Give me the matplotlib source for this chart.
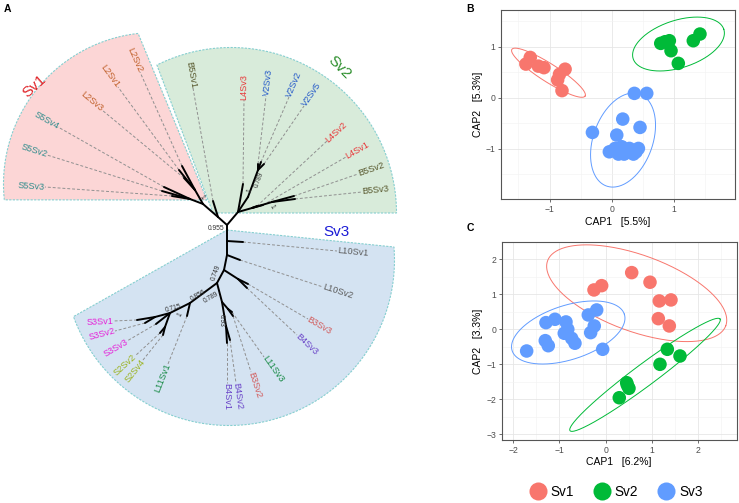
import numpy as np
import matplotlib
matplotlib.use('Agg')
import matplotlib.pyplot as plt
from matplotlib.patches import Polygon
from matplotlib.lines import Line2D

plt.rcParams['font.family'] = ['Liberation Sans', 'DejaVu Sans']

# ======================= DATA =======================
# ---- Panel A: unrooted tree (positions, in px) ----
node_names = ['R', 'B5a', 'N1', 'L2n', 'S5n', 'N2', 'Vn', 'V2n', 'Ln', 'B5n',
              'C1', 'C2', 'C3', 'B34', 'C4', 'D1', 'E1', 'D2', 'F1', 'F2', 'S3n', 'S2n']
node_x = [227, 218, 203, 195, 190, 238, 248, 258, 252, 272,
          227, 227, 224, 238, 217, 222, 228, 226, 190, 170, 155, 165]
node_y = [225, 217, 204, 190, 199, 212, 197, 170, 208, 202,
          241, 255, 270, 279, 283, 302, 309, 326, 303, 313, 317, 327]
edge_from = ['R', 'B5a', 'N1', 'N1', 'R', 'N2', 'Vn', 'N2', 'Ln',
             'R', 'C1', 'C2', 'C3', 'C3', 'C4', 'D1', 'D1', 'C4', 'F1', 'F2', 'F2']
edge_to = ['B5a', 'N1', 'L2n', 'S5n', 'N2', 'Vn', 'V2n', 'Ln', 'B5n',
           'C1', 'C2', 'C3', 'B34', 'C4', 'D1', 'E1', 'D2', 'F1', 'F2', 'S3n', 'S2n']

leaf_names = ['L2Sv2', 'L2Sv1', 'L2Sv3', 'S5Sv4', 'S5Sv2', 'S5Sv3',
              'B5Sv1', 'L4Sv3', 'V2Sv3', 'V2Sv2', 'V2Sv5', 'L4Sv2', 'L4Sv1', 'B5Sv2', 'B5Sv3',
              'L10Sv1', 'L10Sv2', 'B3Sv3', 'B4Sv3', 'L11Sv3', 'B3Sv2', 'B4Sv2', 'B4Sv1',
              'L11Sv1', 'S3Sv1', 'S3Sv2', 'S3Sv3', 'S2Sv2', 'S2Sv4']
leaf_parent = ['L2n', 'L2n', 'L2n', 'S5n', 'S5n', 'S5n',
               'B5a', 'N2', 'V2n', 'V2n', 'V2n', 'Ln', 'Ln', 'B5n', 'B5n',
               'C1', 'C2', 'B34', 'B34', 'E1', 'E1', 'D2', 'D2',
               'F1', 'S3n', 'S3n', 'F2', 'S2n', 'S2n']
leaf_tip_x = [182, 179, 184, 164, 162, 172,
              213, 243, 258, 261, 264, 257, 263, 294, 295,
              243, 240, 248, 247, 232, 233, 230, 227,
              187, 137, 145, 156, 160, 163]
leaf_tip_y = [166, 170, 178, 187, 191, 196,
              201, 184, 164, 162, 164, 206, 205, 196, 199,
              242, 260, 284, 288, 312, 316, 340, 343,
              316, 320, 323, 324, 333, 335]
leaf_lab_x = [140, 118, 102, 58, 47, 45,
              193, 244, 266, 289, 304, 327, 346, 358, 362,
              337, 323, 308, 297, 264, 251, 236, 227,
              168, 113, 115, 127, 135, 143]
leaf_lab_y = [72, 87, 110, 127, 155, 187,
              88, 100, 96, 97, 106, 141, 157, 174, 192,
              251, 287, 319, 335, 357, 372, 383, 383,
              364, 321, 331, 341, 356, 360]
leaf_colors = ['#c0602a'] * 3 + ['#2e8b8b'] * 3 + \
              ['#55552a', '#e8383a', '#2358c8', '#2358c8', '#2358c8', '#e8383a', '#e8383a', '#55552a', '#55552a'] + \
              ['#5a5a5a', '#5a5a5a', '#d25a5a', '#6a44c8', '#178a45', '#d25a5a', '#6a44c8', '#6a44c8'] + \
              ['#178a45', '#e620d8', '#e620d8', '#e620d8', '#9ab21e', '#9ab21e']

boot_text = ['0.955', '1', '1', '0.789', '1', '0.749', '0.856', '0.789', '0.715', '1', '0.93']
boot_x = [216, 202, 250, 259, 272, 216, 198, 211, 173, 180, 221]
boot_y = [229, 197, 191, 180, 207, 273, 296, 298, 308, 315, 320]
boot_rot = [0, -50, 70, 70, -60, 70, 30, 30, 15, 60, -90]

clade_names = ['Sv1', 'Sv2', 'Sv3']
clade_text_colors = ['#e0252a', '#2d8f2d', '#1c1cd6']
clade_fill = ['#fcd6d6', '#d8ebda', '#d4e3f2']

# ---- Panel B ----
B_x = {'Sv1': [-1.31, -1.38, -1.18, -1.09, -0.75, -0.84, -0.87, -0.80],
       'Sv2': [0.787, 0.856, 0.925, 0.952, 1.069, 1.31, 1.417],
       'Sv3': [-0.311, 0.176, 0.080, 0.454, 0.363, 0.562, -0.039, 0.053, 0.107,
               0.198, 0.284, 0.348, 0.428, 0.161, 0.39]}
B_y = {'Sv1': [0.79, 0.66, 0.62, 0.59, 0.56, 0.46, 0.35, 0.14],
       'Sv2': [1.066, 1.098, 1.118, 0.922, 0.674, 1.118, 1.249],
       'Sv3': [-0.679, -0.418, -0.731, -0.581, 0.086, 0.086, -1.059, -0.993, -1.104,
               -1.104, -0.993, -1.104, -0.993, -0.96, -1.06]}
# ellipse: centre, major half-axis vector, minor half-axis vector (data units)
B_ell = {'Sv1': (-1.017, 0.491, 0.588, -0.458, 0.078, 0.149),
         'Sv2': (1.072, 1.053, 0.728, 0.289, -0.118, 0.442),
         'Sv3': (0.181, -0.829, 0.268, 0.900, -0.448, 0.199)}

# ---- Panel C ----
C_x = {'Sv1': [0.563, 0.959, -0.253, -0.087, 1.16, 1.413, 1.139, 1.377],
       'Sv2': [1.334, 1.608, 1.175, 0.455, 0.47, 0.504, 0.294],
       'Sv3': [-1.71, -1.292, -1.097, -0.859, -0.896, -0.736, -0.665, -1.307, -1.242,
               -0.376, -0.195, -0.247, -0.325, -0.065, -0.82]}
C_y = {'Sv1': [1.622, 1.347, 1.126, 1.249, 0.811, 0.840, 0.304, 0.095],
       'Sv2': [-0.573, -0.765, -1.003, -1.53, -1.6, -1.69, -1.96],
       'Sv3': [-0.622, 0.19, 0.286, 0.21, -0.115, -0.259, -0.40, -0.326, -0.47,
               0.41, 0.553, 0.095, -0.096, -0.573, 0.0]}
C_ell = {'Sv1': (0.671, 1.032, 1.928, -0.929, 0.282, 1.027),
         'Sv2': (0.851, -1.304, 1.623, 1.599, -0.142, 0.253),
         'Sv3': (-0.81, -0.092, 1.214, 0.523, -0.181, 0.736)}

groups = ['Sv1', 'Sv2', 'Sv3']
group_colors = ['#F8766D', '#00BA38', '#619CFF']

B_xlabel, B_ylabel = 'CAP1   [5.5%]', 'CAP2   [5.3%]'
C_xlabel, C_ylabel = 'CAP1   [6.2%]', 'CAP2   [3.3%]'
B_ticks_x, B_ticks_y = [-1, 0, 1], [-1, 0, 1]
C_ticks_x, C_ticks_y = [-2, -1, 0, 1, 2], [-3, -2, -1, 0, 1, 2]

# ======================= FIGURE =======================
W, H = 739, 503
fig = plt.figure(figsize=(W / 100, H / 100), dpi=100)

# ---------- Panel A ----------
axA = fig.add_axes([0, 0, 1, 1], zorder=0)
axA.set_xlim(0, W)
axA.set_ylim(H, 0)
axA.axis('off')


def arc_pts(cx, cy, r, a0, a1, n=80):
    t = np.radians(np.linspace(a0, a1, n))
    return np.column_stack([cx + r * np.cos(t), cy - r * np.sin(t)])


# clade shading shapes: apex, arc centre, radius, arc angles
shapes = [((207, 200), (155, 184), 151.5, 186.0, 96.4),
          ((213, 213), (231, 213), 165.5, 116.6, 0.0),
          ((227, 230), (229, 260), 165.5, 4.5, -160.0)]
for (apex, cen, r, a0, a1), fc in zip(shapes, clade_fill):
    pts = np.vstack([[apex], arc_pts(cen[0], cen[1], r, a0, a1), [apex]])
    axA.add_patch(Polygon(pts, closed=True, facecolor=fc, edgecolor='#86cfd0',
                          lw=0.8, ls=(0, (2, 1.2)), zorder=1))

clade_lab_pos = [(34, 86, 42), (339, 67, -45), (336, 232, 0)]
for name, col, (x, y, rot) in zip(clade_names, clade_text_colors, clade_lab_pos):
    axA.text(x, y, name, color=col, fontsize=11, rotation=rot, ha='center', va='center', zorder=5)

npos = {n: (x, y) for n, x, y in zip(node_names, node_x, node_y)}
for a, b in zip(edge_from, edge_to):
    axA.plot([npos[a][0], npos[b][0]], [npos[a][1], npos[b][1]], color='black', lw=1.4,
             solid_capstyle='round', zorder=3)

for name, par, tx, ty, lx, ly, col in zip(leaf_names, leaf_parent, leaf_tip_x, leaf_tip_y,
                                          leaf_lab_x, leaf_lab_y, leaf_colors):
    px, py = npos[par]
    axA.plot([px, tx], [py, ty], color='black', lw=1.4, solid_capstyle='round', zorder=3)
    axA.plot([tx, lx], [ty, ly], color='#909090', lw=0.7, ls=(0, (3, 2)), zorder=2)
    ang = np.degrees(np.arctan2(-(ly - ty), lx - tx))
    if -90.5 <= ang <= 90.5:
        rot, ha = ang, 'left'
    else:
        rot, ha = ang - 180 if ang > 0 else ang + 180, 'right'
    axA.text(lx, ly, name, color=col, fontsize=6.6, rotation=rot, ha=ha, va='center',
             rotation_mode='anchor', zorder=4)

for t, x, y, r in zip(boot_text, boot_x, boot_y, boot_rot):
    axA.text(x, y, t, fontsize=4.8, color='#333333', rotation=r, ha='center', va='center',
             rotation_mode='anchor', zorder=4)

fig.text(7.5 / W, 1 - 8.5 / H, 'A', fontsize=7.5, fontweight='bold', ha='center', va='center')
fig.text(470 / W, 1 - 8.5 / H, 'B', fontsize=7.5, fontweight='bold', ha='center', va='center')
fig.text(470 / W, 1 - 228 / H, 'C', fontsize=7.5, fontweight='bold', ha='center', va='center')


# ---------- Panels B, C ----------
def style_axes(ax, xt, yt, xlim, ylim, xl, yl):
    ax.set_xticks(xt)
    ax.set_yticks(yt)
    ax.set_xticks([v + 0.5 for v in range(int(np.floor(xlim[0])) - 1, int(np.ceil(xlim[1])) + 1)], minor=True)
    ax.set_yticks([v + 0.5 for v in range(int(np.floor(ylim[0])) - 1, int(np.ceil(ylim[1])) + 1)], minor=True)
    ax.set_xlim(*xlim)
    ax.set_ylim(*ylim)
    ax.grid(which='major', color='#e6e6e6', lw=0.6, zorder=0)
    ax.grid(which='minor', color='#f2f2f2', lw=0.4, zorder=0)
    ax.set_axisbelow(True)
    ax.tick_params(which='major', length=2.5, width=0.5, color='#333333', labelsize=6.2,
                   labelcolor='#4d4d4d', pad=1.5)
    ax.tick_params(which='minor', length=0)
    for s in ax.spines.values():
        s.set_color('#555555')
        s.set_linewidth(0.8)
    ax.set_xlabel(xl, fontsize=7.5, labelpad=2)
    ax.set_ylabel(yl, fontsize=7.5, labelpad=2)


def draw_panel(ax, X, Y, E):
    for g, col in zip(groups, group_colors):
        ax.scatter(X[g], Y[g], s=95, color=col, edgecolors='none', zorder=3)
        cx, cy, ux, uy, vx, vy = E[g]
        t = np.linspace(0, 2 * np.pi, 300)
        ax.plot(cx + ux * np.cos(t) + vx * np.sin(t), cy + uy * np.cos(t) + vy * np.sin(t),
                color=col, lw=0.7, zorder=2)


axB = fig.add_axes([501 / W, 1 - 199.3 / H, 234 / W, 189.3 / H])
draw_panel(axB, B_x, B_y, B_ell)
style_axes(axB, B_ticks_x, B_ticks_y, (-1.78, 1.98), (-1.99, 1.72), B_xlabel, B_ylabel)

axC = fig.add_axes([501.7 / W, 1 - 440 / H, 235 / W, 197.7 / H])
draw_panel(axC, C_x, C_y, C_ell)
style_axes(axC, C_ticks_x, C_ticks_y, (-2.25, 2.835), (-3.17, 2.49), C_xlabel, C_ylabel)

handles = [Line2D([], [], marker='o', ls='none', markersize=13, markerfacecolor=c,
                  markeredgecolor='none') for c in group_colors]
fig.legend(handles, groups, loc='center', bbox_to_anchor=(616 / W, 1 - 492 / H), ncol=3,
           frameon=False, fontsize=9.8, handletextpad=0.35, columnspacing=1.45, handlelength=1.2)

fig.savefig('out.png', dpi=100)
